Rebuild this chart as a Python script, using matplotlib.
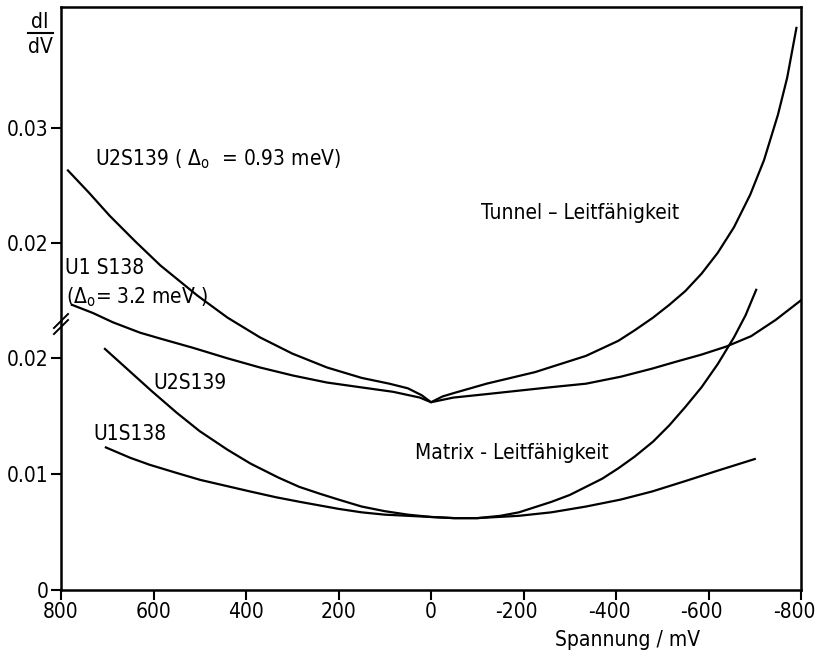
import numpy as np
import matplotlib.pyplot as plt
from matplotlib.transforms import ScaledTranslation

# The tunnel curves are plotted against the upper (broken) part of the y axis,
# which sits this far above the lower scale.
SHIFT = 0.0099

# Tunnel-Leitfaehigkeit, values in units of the upper scale
tun_u2_mv = [785, 740, 695, 640, 585, 545, 505, 440, 370, 300, 225, 150, 90,
             50, 20, 0, -25, -50, -120, -225, -335, -405, -440, -480, -515,
             -550, -585, -620, -655, -690, -720, -750, -770, -790]
tun_u2_g = [0.0263, 0.0244, 0.0224, 0.0202, 0.0181, 0.0168, 0.0155, 0.0136,
            0.0119, 0.0105, 0.0093, 0.0084, 0.0079, 0.0075, 0.0069, 0.0063,
            0.0068, 0.0071, 0.0079, 0.0089, 0.0103, 0.0116, 0.0125, 0.0136,
            0.0147, 0.0159, 0.0174, 0.0192, 0.0214, 0.0242, 0.0272, 0.0311,
            0.0343, 0.0386]

tun_u1_mv = [776, 731, 688, 629, 586, 515, 441, 370, 298, 225, 154, 82, 24,
             0, -48, -120, -190, -260, -335, -410, -478, -530, -584, -638,
             -692, -745, -800]
tun_u1_g = [0.0147, 0.0140, 0.0132, 0.0123, 0.0118, 0.0110, 0.0101, 0.0093,
            0.0086, 0.0080, 0.0076, 0.0072, 0.0067, 0.0063, 0.0067, 0.0070,
            0.0073, 0.0076, 0.0079, 0.0085, 0.0092, 0.0098, 0.0104, 0.0111,
            0.0120, 0.0134, 0.0151]

# Matrix-Leitfaehigkeit, lower scale
mat_u2_mv = [705, 655, 605, 550, 500, 440, 390, 330, 285, 240, 200, 150, 100,
             50, 0, -50, -100, -150, -190, -260, -300, -335, -370, -405, -440,
             -480, -515, -550, -585, -620, -655, -680, -703]
mat_u2_g = [0.0208, 0.0190, 0.0172, 0.0153, 0.0137, 0.0121, 0.0109, 0.0097,
            0.0089, 0.0083, 0.0078, 0.0072, 0.0068, 0.0065, 0.0063, 0.0062,
            0.0062, 0.0064, 0.0067, 0.0076, 0.0082, 0.0089, 0.0096, 0.0105,
            0.0115, 0.0128, 0.0142, 0.0158, 0.0175, 0.0195, 0.0218, 0.0237,
            0.0259]

mat_u1_mv = [703, 650, 608, 550, 499, 445, 391, 335, 283, 200, 150, 100, 50,
             0, -50, -100, -190, -260, -335, -410, -478, -550, -620, -700]
mat_u1_g = [0.0123, 0.0114, 0.0108, 0.0101, 0.0095, 0.0090, 0.0085, 0.0080,
            0.0076, 0.0070, 0.0067, 0.0065, 0.0064, 0.0063, 0.0062, 0.0062,
            0.0064, 0.0067, 0.0072, 0.0078, 0.0085, 0.0094, 0.0103, 0.0113]

x_ticks = [800, 600, 400, 200, 0, -200, -400, -600, -800]
x_labels = ['800', '600', '400', '200', '0', '-200', '-400', '-600', '-800']
y_ticks = [0, 0.01, 0.02, 0.02 + SHIFT, 0.03 + SHIFT]
y_labels = ['0', '0.01', '0.02', '0.02', '0.03']

plt.rcParams['font.family'] = ['DejaVu Sans']
plt.rcParams['font.stretch'] = 'condensed'
plt.rcParams['mathtext.fontset'] = 'dejavusans'

fig = plt.figure(figsize=(8.21, 6.57), dpi=100)
ax = fig.add_axes([0.0743, 0.1020, 0.9014, 0.8873])

lw = 1.6
ax.plot(tun_u2_mv, np.array(tun_u2_g) + SHIFT, color='black', lw=lw)
ax.plot(tun_u1_mv, np.array(tun_u1_g) + SHIFT, color='black', lw=lw)
ax.plot(mat_u2_mv, mat_u2_g, color='black', lw=lw)
ax.plot(mat_u1_mv, mat_u1_g, color='black', lw=lw)

ax.set_xlim(800, -800)
ax.set_ylim(0, 0.0503)
ax.set_xticks(x_ticks)
ax.set_xticklabels(x_labels)
ax.set_yticks(y_ticks)
ax.set_yticklabels(y_labels)
ax.tick_params(direction='out', length=7, width=1.5, labelsize=15, pad=2)
for s in ax.spines.values():
    s.set_linewidth(1.8)

# negative labels: keep the digits centred under the tick, minus hangs left
shift_left = ScaledTranslation(-7 / 100, 0, fig.dpi_scale_trans)
for lab in ax.get_xticklabels():
    if lab.get_text().startswith('-'):
        lab.set_transform(lab.get_transform() + shift_left)

# axis break marks on the left spine
for y0, y1 in [(0.4391, 0.4631), (0.4494, 0.4734)]:
    ax.plot([-0.0095, 0.0095], [y0, y1], transform=ax.transAxes,
            color='black', lw=1.4, clip_on=False)

fs = 15
ax.text(726, 0.0372, r'U2S139 ( $\Delta_\mathrm{o}$  = 0.93 meV)', fontsize=fs,
        ha='left', va='center')
ax.text(791, 0.0278, 'U1 S138', fontsize=fs, ha='left', va='center')
ax.text(789, 0.0253, r'($\Delta_\mathrm{o}$= 3.2 meV )', fontsize=fs,
        ha='left', va='center')
ax.text(601, 0.0179, 'U2S139', fontsize=fs, ha='left', va='center')
ax.text(731, 0.0135, 'U1S138', fontsize=fs, ha='left', va='center')
ax.text(-108, 0.0325, 'Tunnel – Leitfähigkeit', fontsize=fs, ha='left',
        va='center')
ax.text(35, 0.0118, 'Matrix - Leitfähigkeit', fontsize=fs, ha='left',
        va='center')
ax.text(0.766, -0.086, 'Spannung / mV', fontsize=15, ha='center',
        va='center', transform=ax.transAxes)

# dI/dV written as a fraction above the y axis
fig.text(0.0487, 0.9665, 'dI', fontsize=15, ha='center', va='center')
fig.add_artist(plt.Line2D([0.034, 0.064], [0.9498, 0.9498], color='black',
                          lw=1.5))
fig.text(0.0487, 0.9285, 'dV', fontsize=15, ha='center', va='center')

fig.savefig('out.png', dpi=100)
